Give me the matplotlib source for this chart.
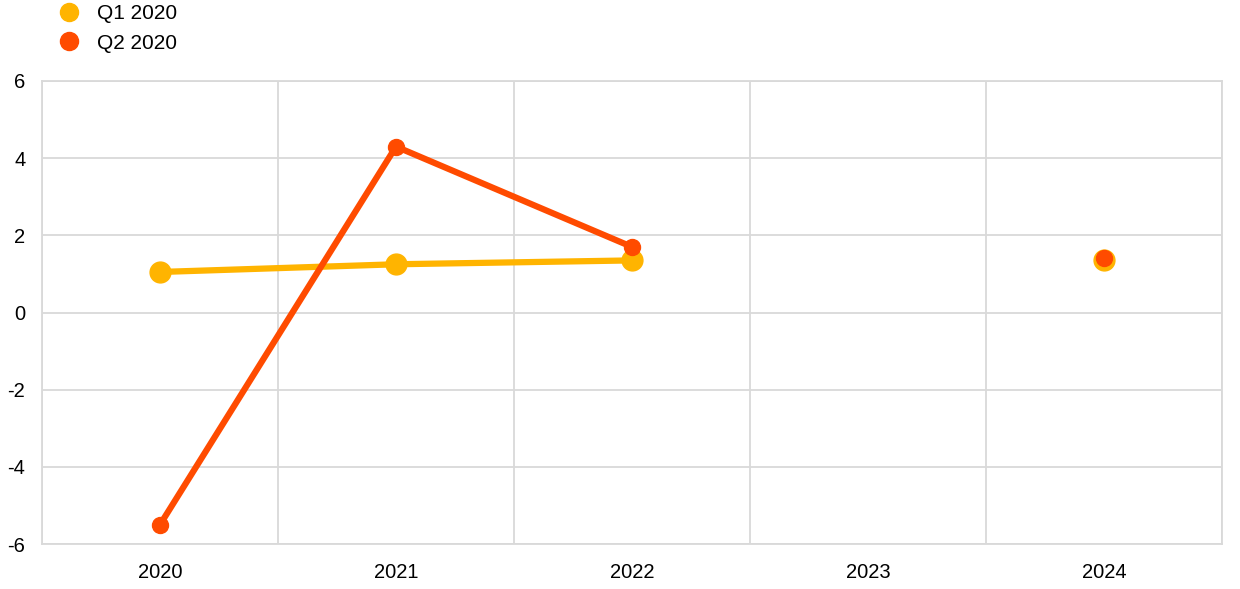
import numpy as np
import matplotlib
matplotlib.use("Agg")
import matplotlib.pyplot as plt
from matplotlib.lines import Line2D

plt.rcParams['font.family'] = ['Liberation Sans', 'DejaVu Sans']
plt.rcParams['axes.unicode_minus'] = False

categories = ["2020", "2021", "2022", "2023", "2024"]
q1_2020 = [1.05, 1.25, 1.35, np.nan, 1.35]
q2_2020 = [-5.5, 4.3, 1.7, np.nan, 1.42]
series_names = ["Q1 2020", "Q2 2020"]
colors = ["#FFB400", "#FF4B00"]

fig = plt.figure(figsize=(12.4, 5.89), dpi=100)
ax = fig.add_axes([42/1240, 1-544/589, (1222-42)/1240, (544-81)/589])

x = np.arange(len(categories))
ax.plot(x, q1_2020, color=colors[0], lw=4.5, marker='o', ms=15, zorder=3, solid_capstyle='round')
ax.plot(x, q2_2020, color=colors[1], lw=4.5, marker='o', ms=11.5, zorder=4, solid_capstyle='round')

ax.set_xlim(-0.5, len(categories)-0.5)
ax.set_ylim(-6, 6)
ax.set_yticks(np.arange(-6, 7, 2))
ax.set_xticks(x)
ax.set_xticklabels(categories)
ax.set_xticks(np.arange(-0.5, len(categories), 1.0), minor=True)
ax.grid(True, which='minor', axis='x', color='#d9d9d9', lw=1.3)
ax.grid(True, which='major', axis='y', color='#d9d9d9', lw=1.3)
ax.grid(False, which='major', axis='x')
ax.tick_params(which='both', length=0, labelsize=14.5, colors='black')
ax.tick_params(axis='y', pad=12)
ax.tick_params(axis='x', pad=14)
for s in ax.spines.values():
    s.set_color('#d9d9d9')
    s.set_linewidth(1.3)
ax.set_axisbelow(True)

handles = [Line2D([], [], ls='none', marker='o', ms=13, color=c) for c in colors]
fig.legend(handles, series_names, loc='upper left', bbox_to_anchor=(44/1240, 1.0),
           frameon=False, fontsize=15, handletextpad=0.35, labelspacing=0.5,
           borderaxespad=0.1, borderpad=0.1)

fig.savefig("out.png", dpi=100)
